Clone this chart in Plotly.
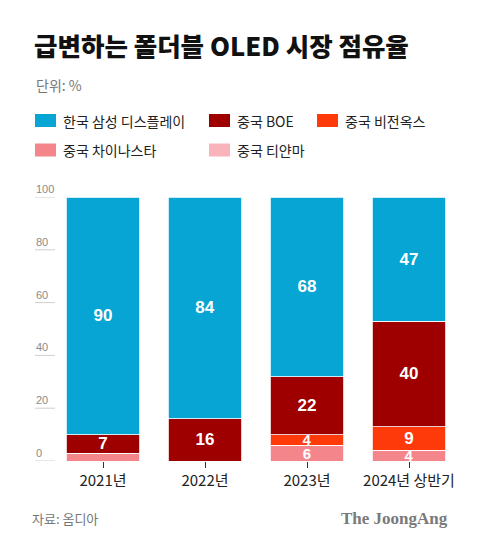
import plotly.graph_objects as go

# ---- data ----
categories = ["2021년", "2022년", "2023년", "2024년 상반기"]
series_names = ["중국 티얀마", "중국 차이나스타", "중국 비전옥스", "중국 BOE", "한국 삼성 디스플레이"]
tianma = [0, 0, 0, 0]
csot = [3, 0, 6, 4]
visionox = [0, 0, 4, 9]
boe = [7, 16, 22, 40]
samsung = [90, 84, 68, 47]
show_label = {
    "중국 티얀마": [False, False, False, False],
    "중국 차이나스타": [False, False, True, True],
    "중국 비전옥스": [False, False, True, True],
    "중국 BOE": [True, True, True, True],
    "한국 삼성 디스플레이": [True, True, True, True],
}
y_ticks = [0, 20, 40, 60, 80, 100]

colors = {
    "한국 삼성 디스플레이": "#06A5D3",
    "중국 BOE": "#9E0000",
    "중국 비전옥스": "#FF3A0A",
    "중국 차이나스타": "#F4868B",
    "중국 티얀마": "#F8B4BA",
}
values = {
    "중국 티얀마": tianma,
    "중국 차이나스타": csot,
    "중국 비전옥스": visionox,
    "중국 BOE": boe,
    "한국 삼성 디스플레이": samsung,
}

W, H = 480, 546
L, R, T, B = 52, 460, 197, 461  # plot area in pixels


def px_x(px):
    return (px - L) / (R - L)


def px_y(py):
    return (B - py) / (B - T)


KR = "Noto Sans CJK KR, Noto Sans, sans-serif"

fig = go.Figure()
for name in series_names:
    vals = values[name]
    texts = [str(v) if s else "" for v, s in zip(vals, show_label[name])]
    sizes = [17 if v >= 7 else 15 for v in vals]
    fig.add_trace(go.Bar(
        x=categories, y=vals, name=name,
        marker=dict(color=colors[name],
                    line=dict(color="white", width=0 if name == "중국 티얀마" else 0.8)),
        text=texts, textposition="inside", insidetextanchor="middle",
        textangle=0, constraintext="none",
        textfont=dict(family="Liberation Sans, Arial, sans-serif", size=sizes, color="white",
                      weight="bold"),
        showlegend=False, hoverinfo="skip",
    ))

fig.update_layout(
    width=W, height=H,
    margin=dict(l=L, r=W - R, t=T, b=H - B, pad=0),
    barmode="stack", bargap=0.28,
    plot_bgcolor="white", paper_bgcolor="white",
    font=dict(family=KR, color="#222"),
)
fig.update_xaxes(
    showgrid=False, zeroline=False, showline=False,
    ticks="outside", ticklen=6, tickwidth=1, tickcolor="#333",
    tickfont=dict(family=KR, size=15, color="#222"),
    range=[-0.5, 3.5],
)
fig.update_yaxes(
    range=[0, 100], showgrid=False, zeroline=False, showline=False,
    showticklabels=False, ticks="",
)

shapes = []
annotations = []
# custom y tick labels with short gridlines
for v in y_ticks:
    shapes.append(dict(type="line", xref="paper", yref="y",
                       x0=px_x(35), x1=px_x(55), y0=v, y1=v,
                       line=dict(color="#cfcfcf", width=1)))
    annotations.append(dict(text=str(v), xref="paper", yref="y", x=px_x(34), y=v,
                            xanchor="left", yanchor="bottom", showarrow=False,
                            yshift=0,
                            font=dict(family="Liberation Sans, Arial, sans-serif",
                                      size=11, color="#8a8a8a")))

# title and unit
annotations.append(dict(text="급변하는 폴더블 OLED 시장 점유율", xref="paper", yref="paper",
                        x=px_x(32), y=px_y(44), xanchor="left", yanchor="middle",
                        showarrow=False,
                        font=dict(family=KR, size=25.5, color="#111", weight=900)))
annotations.append(dict(text="단위: %", xref="paper", yref="paper",
                        x=px_x(34), y=px_y(85), xanchor="left", yanchor="middle",
                        showarrow=False, font=dict(family=KR, size=14, color="#777")))

# custom legend
legend_layout = [
    ("한국 삼성 디스플레이", 35, 120.5),
    ("중국 BOE", 209, 120.5),
    ("중국 비전옥스", 317, 120.5),
    ("중국 차이나스타", 35, 150),
    ("중국 티얀마", 209, 150),
]
for name, sx, sy in legend_layout:
    shapes.append(dict(type="rect", xref="paper", yref="paper",
                       x0=px_x(sx), x1=px_x(sx + 21), y0=px_y(sy - 6.5), y1=px_y(sy + 6.5),
                       fillcolor=colors[name], line=dict(width=0)))
    annotations.append(dict(text=name, xref="paper", yref="paper",
                            x=px_x(sx + 26), y=px_y(sy), xanchor="left", yanchor="middle",
                            showarrow=False, font=dict(family=KR, size=14, color="#222")))

# footer
annotations.append(dict(text="자료: 옴디아", xref="paper", yref="paper",
                        x=px_x(30), y=px_y(518), xanchor="left", yanchor="middle",
                        showarrow=False, font=dict(family=KR, size=13, color="#777")))
annotations.append(dict(text="<b>The JoongAng</b>", xref="paper", yref="paper",
                        x=px_x(450), y=px_y(518), xanchor="right", yanchor="middle",
                        showarrow=False,
                        font=dict(family="Liberation Serif, DejaVu Serif, serif", size=17,
                                  color="#7a7a7a")))

fig.update_layout(shapes=shapes, annotations=annotations)
fig.write_html("out.html", config={"displayModeBar": False},
               post_script="document.body.style.margin='0';document.body.style.overflow='hidden';")
